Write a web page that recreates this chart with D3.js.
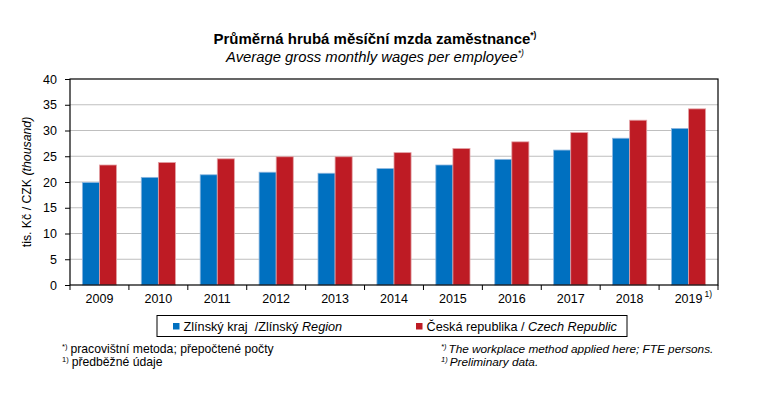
<!DOCTYPE html>
<html>
<head>
<meta charset="utf-8">
<script src="https://cdn.jsdelivr.net/npm/d3@7"></script>
<style>
  body { margin: 0; background: #fff; }
  svg text { font-family: "Liberation Sans", Arial, sans-serif; fill: #000; }
</style>
</head>
<body>
<div id="chart"></div>
<script>
// data (thousand CZK)
var years = ["2009", "2010", "2011", "2012", "2013", "2014", "2015", "2016", "2017", "2018", "2019"];
var zlin = [19.9, 20.9, 21.4, 21.9, 21.7, 22.6, 23.3, 24.4, 26.2, 28.5, 30.4];
var cr = [23.3, 23.8, 24.5, 24.9, 24.9, 25.7, 26.5, 27.8, 29.6, 32.0, 34.2];
var yTicks = [0, 5, 10, 15, 20, 25, 30, 35, 40];
var seriesNames = ["zlin", "cr"];
var colors = {zlin: "#0070C0", cr: "#BE1B24"};
var strokes = {zlin: "#8DB6DF", cr: "#E3A2A6"};

var width = 767, height = 399;
var plot = {left: 70, right: 718, top: 79, bottom: 285};

var svg = d3.select("#chart").append("svg")
    .attr("width", width)
    .attr("height", height);

// titres
var title = svg.append("text")
    .attr("x", 375).attr("y", 44)
    .attr("text-anchor", "middle")
    .style("font-size", "15px")
    .style("font-weight", "bold");
title.append("tspan").text("Průměrná hrubá měsíční mzda zaměstnance");
title.append("tspan").attr("dy", -6).style("font-size", "8.5px").text("*)");

var subtitle = svg.append("text")
    .attr("x", 375).attr("y", 62)
    .attr("text-anchor", "middle")
    .style("font-size", "14.8px")
    .style("font-style", "italic");
subtitle.append("tspan").text("Average gross monthly wages per employee");
subtitle.append("tspan").attr("dy", -6).style("font-size", "8.5px").text("*)");

// scales
var x = d3.scaleBand()
    .domain(years)
    .range([plot.left, plot.right])
    .paddingInner(0.42)
    .paddingOuter(0.21);
var xSub = d3.scaleBand()
    .domain(seriesNames)
    .range([0, x.bandwidth()]);
var y = d3.scaleLinear()
    .domain([0, 40])
    .range([plot.bottom, plot.top]);

// grille
svg.append("g")
    .selectAll("line")
    .data(yTicks.filter(function(d) { return d > 0 && d < 40; }))
    .enter().append("line")
    .attr("x1", plot.left).attr("x2", plot.right)
    .attr("y1", function(d) { return y(d); })
    .attr("y2", function(d) { return y(d); })
    .attr("stroke", "#BFBFBF")
    .attr("stroke-width", 1);

// barres
var rows = years.map(function(yr, i) { return {year: yr, zlin: zlin[i], cr: cr[i]}; });
var groups = svg.append("g")
    .selectAll("g")
    .data(rows)
    .enter().append("g")
    .attr("transform", function(d) { return "translate(" + x(d.year) + ",0)"; });
groups.selectAll("rect")
    .data(function(d) { return seriesNames.map(function(k) { return {key: k, value: d[k]}; }); })
    .enter().append("rect")
    .attr("x", function(d) { return xSub(d.key); })
    .attr("y", function(d) { return y(d.value); })
    .attr("width", xSub.bandwidth())
    .attr("height", function(d) { return y(0) - y(d.value); })
    .attr("fill", function(d) { return colors[d.key]; })
    .attr("stroke", function(d) { return strokes[d.key]; })
    .attr("stroke-width", 0.8);

// cadre
svg.append("rect")
    .attr("x", plot.left).attr("y", plot.top)
    .attr("width", plot.right - plot.left)
    .attr("height", plot.bottom - plot.top)
    .attr("fill", "none")
    .attr("stroke", "#000")
    .attr("stroke-width", 1.2);

// axe y
var yAxis = svg.append("g")
    .attr("transform", "translate(" + plot.left + ",0)")
    .call(d3.axisLeft(y).tickValues(yTicks).tickSize(5).tickPadding(8));
yAxis.select(".domain").remove();
yAxis.selectAll("text").style("font-size", "12.5px");

// axe x : ticks entre les catégories
var step = x.step();
var boundaries = d3.range(years.length + 1).map(function(i) { return plot.left + i * step; });
svg.append("g")
    .selectAll("line")
    .data(boundaries)
    .enter().append("line")
    .attr("x1", function(d) { return d; }).attr("x2", function(d) { return d; })
    .attr("y1", plot.bottom).attr("y2", plot.bottom + 5)
    .attr("stroke", "#000");

svg.append("g")
    .selectAll("text")
    .data(years)
    .enter().append("text")
    .attr("x", function(d) { return x(d) + x.bandwidth() / 2; })
    .attr("y", 303)
    .attr("text-anchor", "middle")
    .style("font-size", "12.5px")
    .text(function(d) { return d; });
svg.append("text")
    .attr("x", x("2019") + x.bandwidth() / 2 + 16)
    .attr("y", 297)
    .style("font-size", "8.5px")
    .text("1)");

// titre de l'axe y
var yTitle = svg.append("text")
    .attr("transform", "translate(31," + ((plot.top + plot.bottom) / 2) + ") rotate(-90)")
    .attr("text-anchor", "middle")
    .style("font-size", "12.3px");
yTitle.append("tspan").text("tis. Kč / CZK ");
yTitle.append("tspan").style("font-style", "italic").text("(thousand)");

// légende
var legend = svg.append("g");
legend.append("rect")
    .attr("x", 157).attr("y", 315.5)
    .attr("width", 470).attr("height", 21)
    .attr("fill", "#fff")
    .attr("stroke", "#000")
    .attr("stroke-width", 1);
var legendItems = [
    {key: "zlin", x: 173, parts: [["Zlínský kraj  /Zlínský ", "normal"], ["Region", "italic"]]},
    {key: "cr", x: 416, parts: [["Česká republika / ", "normal"], ["Czech Republic", "italic"]]}
];
legendItems.forEach(function(item) {
    legend.append("rect")
        .attr("x", item.x).attr("y", 323)
        .attr("width", 6.5).attr("height", 6.5)
        .attr("fill", colors[item.key]);
    var t = legend.append("text")
        .attr("x", item.x + 10.5).attr("y", 331)
        .style("font-size", "12.7px")
        .attr("xml:space", "preserve");
    item.parts.forEach(function(p) {
        t.append("tspan").style("font-style", p[1]).text(p[0]);
    });
});

// notes
var notesLeft = [["*)", "pracovištní metoda; přepočtené počty"], ["1)", "předběžné údaje"]];
var notesRight = [["*)", "The workplace method applied here; FTE persons."], ["1)", "Preliminary data."]];
notesLeft.forEach(function(n, i) {
    var t = svg.append("text")
        .attr("x", 62).attr("y", 353 + i * 13)
        .style("font-size", "12.2px");
    t.append("tspan").attr("dy", -4).style("font-size", "7.5px").text(n[0]);
    t.append("tspan").attr("dy", 4).attr("dx", 3).text(n[1]);
});
notesRight.forEach(function(n, i) {
    var t = svg.append("text")
        .attr("x", 441).attr("y", 353 + i * 12.5)
        .style("font-size", "11.8px")
        .style("font-style", "italic");
    t.append("tspan").attr("dy", -4).style("font-size", "7.5px").text(n[0]);
    t.append("tspan").attr("dy", 4).attr("dx", 2).text(n[1]);
});
</script>
</body>
</html>
